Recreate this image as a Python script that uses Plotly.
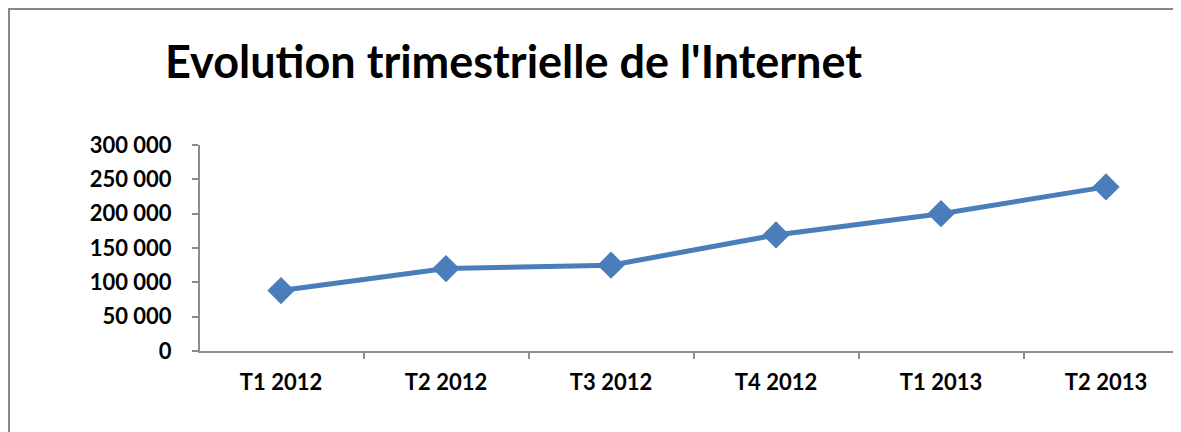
import plotly.graph_objects as go

categories = ["T1 2012", "T2 2012", "T3 2012", "T4 2012", "T1 2013", "T2 2013"]
values = [88000, 120000, 125000, 169000, 200000, 239000]
y_ticks = [0, 50000, 100000, 150000, 200000, 250000, 300000]
title_text = "Evolution trimestrielle de l'Internet"

# page body has an 8px margin; figure sized so it ends at the window edge
W, H = 1173, 424
L, R, T, B = 192, 0, 137, 81
pw = W - L - R
ph = H - T - B

def px(x):
    return (x - L) / pw

def py(y):
    return (H - B - y) / ph

fig = go.Figure()
fig.add_trace(go.Scatter(
    x=categories, y=values, mode="lines+markers",
    line=dict(color="#4a7ebb", width=5),
    marker=dict(symbol="diamond", size=21, color="#4a7ebb"),
    showlegend=False, cliponaxis=False,
))

fig.update_layout(
    width=W, height=H,
    margin=dict(l=L, r=R, t=T, b=B),
    paper_bgcolor="white", plot_bgcolor="white",
    separators=", ",
    font=dict(family="Lato", color="black"),
    title=dict(text="<b>" + title_text + "</b>", xref="container", yref="container",
               x=157 / W, xanchor="left", y=1 - 54 / H, yanchor="middle",
               font=dict(family="Lato", size=45, color="black")),
    xaxis=dict(
        type="category", range=[-0.4909, 5.4545], tickson="boundaries",
        showgrid=False, zeroline=False, showline=True, linecolor="#8c8c8c", linewidth=2,
        ticks="outside", ticklen=6, tickcolor="#8c8c8c", tickwidth=1.5,
        tickfont=dict(family="Lato", size=22, color="black", weight="bold"),
        ticklabelstandoff=11,
    ),
    yaxis=dict(
        range=[0, 300000], tickvals=y_ticks, tickformat=",d",
        showgrid=False, zeroline=False, showline=True, linecolor="#8c8c8c", linewidth=2,
        ticks="outside", ticklen=6, tickcolor="#8c8c8c", tickwidth=1.5,
        tickfont=dict(family="Lato", size=22, color="black", weight="bold"),
        ticklabelstandoff=16,
    ),
    shapes=[
        dict(type="line", xref="paper", yref="paper", x0=px(0), x1=px(W), y0=py(0.5), y1=py(0.5),
             line=dict(color="#888888", width=3)),
        dict(type="line", xref="paper", yref="paper", x0=px(0.5), x1=px(0.5), y0=py(0), y1=py(H),
             line=dict(color="#888888", width=3)),
    ],
)

fig.write_html("out.html", config={"displayModeBar": False})
